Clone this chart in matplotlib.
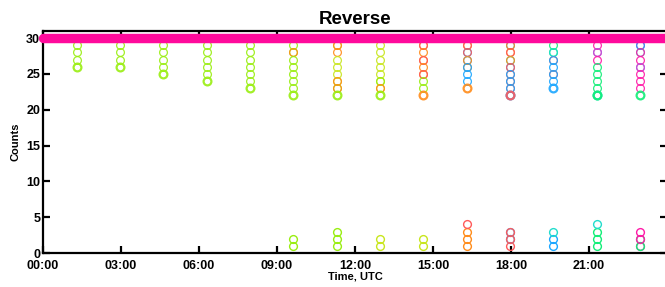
import numpy as np
import matplotlib
matplotlib.use("Agg")
import matplotlib.pyplot as plt

plt.rcParams['font.family'] = ['Liberation Sans', 'DejaVu Sans']
plt.rcParams['font.weight'] = 'bold'

# Colour codes used in the columns
palette = {'L': '#99ee11', 'Y': '#c8e61e', 'O': '#ff8c1a', 'R': '#ff5a5a',
           'B': '#1aa6ff', 'C': '#22ddcc', 'G': '#11ee77', 'M': '#ff1aa8',
           'P': '#b060e0'}

# Column times (hours UTC)
col_times = [1.3, 2.97, 4.63, 6.3, 7.97, 9.63, 11.3,
             12.97, 14.63, 16.3, 17.97, 19.63, 21.3, 22.97]

# Upper group: colour codes from 30 downwards, one entry per count value
hi_codes = [
    ['L', 'L', 'L', 'L', 'L'],
    ['L', 'L', 'L', 'L', 'L'],
    ['L', 'L', 'L', 'L', 'L', 'L'],
    ['L', 'L', 'L', 'L', 'L', 'L', 'L'],
    ['L', 'L', 'L', 'L', 'L', 'L', 'L', 'L'],
    ['L', 'L', 'LO', 'L', 'L', 'L', 'L', 'L', 'L'],
    ['LY', 'YO', 'O', 'Y', 'Y', 'Y', 'YO', 'LO', 'L'],
    ['Y', 'Y', 'Y', 'Y', 'Y', 'Y', 'YL', 'YO', 'L'],
    ['OY', 'OR', 'O', 'OR', 'O', 'OR', 'L', 'L', 'O'],
    ['GO', 'OR', 'BR', 'BO', 'OB', 'B', 'B', 'O'],
    ['CG', 'BO', 'OR', 'CO', 'BR', 'RB', 'RB', 'RB', 'BR'],
    ['CG', 'G', 'GC', 'RB', 'B', 'RB', 'B', 'B'],
    ['MP', 'M', 'MP', 'M', 'G', 'G', 'G', 'G', 'CG'],
    ['P', 'MB', 'CM', 'M', 'MP', 'M', 'M', 'M', 'G'],
]

# Lower group: colour codes from 1 upwards (empty list = no low counts)
lo_codes = [
    [], [], [], [], [],
    ['L', 'L'],
    ['L', 'L', 'L'],
    ['Y', 'Y'],
    ['Y', 'Y'],
    ['O', 'O', 'O', 'R'],
    ['R', 'BR', 'BR'],
    ['B', 'B', 'C'],
    ['G', 'G', 'G', 'C'],
    ['MG', 'GM', 'M'],
]

sat_level = 30
sat_span = [0, 24]

fig = plt.figure(figsize=(6.65, 2.87), dpi=100)
ax = fig.add_axes([43 / 665, 34 / 287, 624 / 665, 222 / 287])

for t, hi, lo in zip(col_times, hi_codes, lo_codes):
    n = len(hi)
    for i, codes in enumerate(hi):
        v = sat_level - i
        lw = 1.6 if i >= n - 1 else 0.9
        for c in codes:
            ax.plot(t, v, 'o', ms=5.6, mfc='none', mec=palette[c],
                    mew=lw, alpha=0.9)
    for i, codes in enumerate(lo):
        for c in codes:
            ax.plot(t, i + 1, 'o', ms=5.6, mfc='none', mec=palette[c],
                    mew=1.0)

# saturated counts form a solid band at 30
ax.plot(sat_span, [sat_level, sat_level], color='#ff0a9c', lw=6.8,
        solid_capstyle='round', clip_on=False, zorder=5)

ax.set_xlim(0, 24)
ax.set_ylim(0, 31)
ax.set_xticks(np.arange(0, 24, 3))
ax.set_xticklabels(['%02d:00' % h for h in range(0, 24, 3)])
ax.set_yticks(range(0, 31, 5))
ax.tick_params(direction='in', top=True, right=True, length=5, width=1.6,
               labelsize=9, pad=2)
ax.tick_params(axis='x', pad=5)
for lab in ax.get_xticklabels() + ax.get_yticklabels():
    lab.set_fontweight('bold')
for s in ax.spines.values():
    s.set_linewidth(1.6)

ax.set_title('Reverse', fontsize=13.5, fontweight='bold', pad=5)
ax.set_xlabel('Time, UTC', fontsize=8, fontweight='bold', labelpad=0)
ax.set_ylabel('Counts', fontsize=8, fontweight='bold', labelpad=4)

fig.savefig('out.png', dpi=100)
